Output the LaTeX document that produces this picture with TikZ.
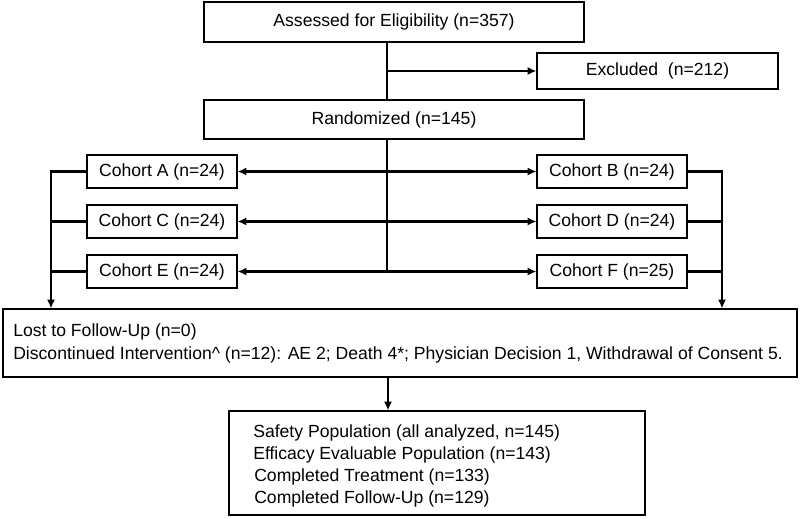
\documentclass[tikz,border=0pt]{standalone}
\usepackage{fontspec}
\setmainfont{Liberation Sans}
\usetikzlibrary{arrows.meta}
\begin{document}
\begin{tikzpicture}[x=0.75pt,y=-0.75pt,
  box/.style={draw=black,line width=0.9pt,inner sep=0pt,align=center,font=\fontsize{13.2}{15.8}\selectfont},
  txt/.style={anchor=west,inner sep=0pt,font=\fontsize{13.2}{15.8}\selectfont},
  conn/.style={line width=1.9pt},
  arr/.style={conn,-{Latex[length=6.5pt,width=6pt]}},
  darr/.style={conn,{Latex[length=6.5pt,width=6pt]}-{Latex[length=6.5pt,width=6pt]}}]
\useasboundingbox (0,0) rectangle (800,518);
% nodes
\node[box,minimum width=285pt,minimum height=30pt] (assess) at (394,22) {Assessed for Eligibility (n=357)};
\node[box,minimum width=180.75pt,minimum height=27pt] (excl) at (657.5,71) {Excluded\ \ (n=212)};
\node[box,minimum width=285pt,minimum height=29.25pt] (rand) at (394,119.5) {Randomized (n=145)};
\node[box,minimum width=112.5pt,minimum height=24.75pt] (A) at (162,171.5) {Cohort A (n=24)};
\node[box,minimum width=112.5pt,minimum height=24.75pt] (B) at (612,171.5) {Cohort B (n=24)};
\node[box,minimum width=112.5pt,minimum height=24.75pt] (C) at (162,221.5) {Cohort C (n=24)};
\node[box,minimum width=112.5pt,minimum height=24.75pt] (D) at (612,221.5) {Cohort D (n=24)};
\node[box,minimum width=112.5pt,minimum height=24.75pt] (E) at (162,271.5) {Cohort E (n=24)};
\node[box,minimum width=112.5pt,minimum height=24.75pt] (F) at (612,271.5) {Cohort F (n=25)};
\node[box,minimum width=595.5pt,minimum height=51pt] (lost) at (400,343) {};
\node[txt] (lost1) at (13,332) {Lost to Follow-Up (n=0)};
\node[txt] (lost2) at (13,355) {Discontinued Intervention\^{} (n=12): AE 2; Death 4*; Physician Decision 1, Withdrawal of Consent 5.};
\node[box,minimum width=312pt,minimum height=78pt] (final) at (437,463) {};
\node[txt] (f1) at (253,433) {Safety Population (all analyzed, n=145)};
\node[txt] (f2) at (253,455) {Efficacy Evaluable Population (n=143)};
\node[txt] (f3) at (254,477) {Completed Treatment (n=133)};
\node[txt] (f4) at (254,499) {Completed Follow-Up (n=129)};
% guide coordinates
\coordinate (v1) at (387,0);
\coordinate (v2) at (388,0);
\coordinate (lb) at (51,0);
\coordinate (rb) at (722,0);
\coordinate (vend) at (387,272);
% connectors
\draw[conn] (assess.south -| v1) -- (rand.north -| v1);
\draw[arr] (excl.west -| v1) -- (excl.west);
\draw[conn] (rand.south -| v1) -- (vend);
\draw[darr] (A.east) -- (B.west);
\draw[darr] (C.east) -- (D.west);
\draw[darr] (E.east) -- (F.west);
\draw[arr] (A.west) -| (lost.north -| lb);
\draw[conn] (C.west) -- (C.west -| lb);
\draw[conn] (E.west) -- (E.west -| lb);
\draw[arr] (B.east) -| (lost.north -| rb);
\draw[conn] (D.east) -- (D.east -| rb);
\draw[conn] (F.east) -- (F.east -| rb);
\draw[arr] (lost.south -| v2) -- (final.north -| v2);
\end{tikzpicture}
\end{document}
